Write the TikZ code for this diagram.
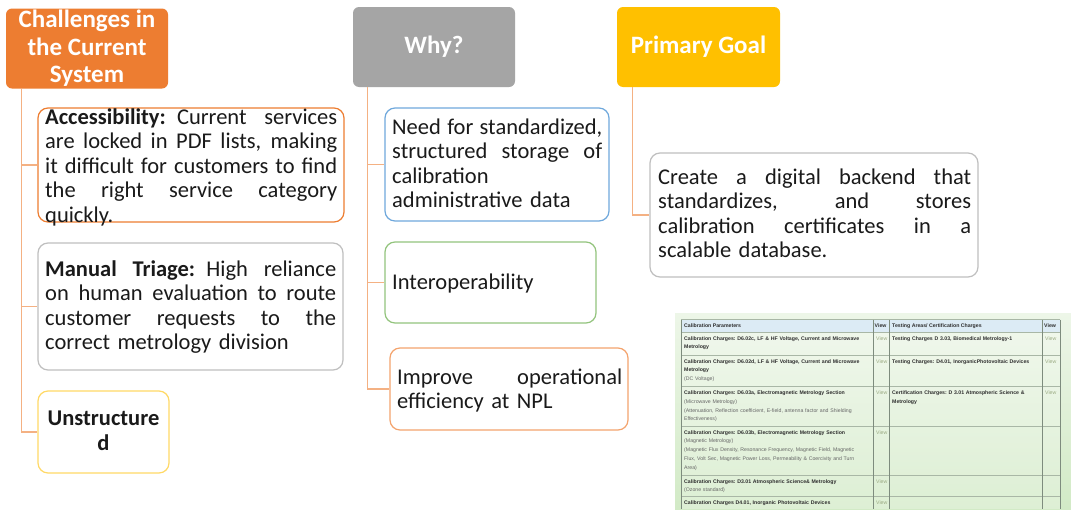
\documentclass[tikz,border=0pt]{standalone}
\usepackage{fontspec}
\setmainfont{Carlito}
\newfontfamily\tabfont{Liberation Sans}
\definecolor{cOrange}{HTML}{ED7D31}
\definecolor{cGray}{HTML}{A5A5A5}
\definecolor{cGold}{HTML}{FFC000}
\definecolor{cConn}{HTML}{F4B183}
\definecolor{bGray}{HTML}{BFBFBF}
\definecolor{bYellow}{HTML}{FFD966}
\definecolor{bBlue}{HTML}{6FA8DC}
\definecolor{bGreen}{HTML}{93C47D}
\definecolor{bOrange}{HTML}{F4A46E}
\definecolor{bgTop}{HTML}{EDF6E8}
\definecolor{bgBot}{HTML}{D2EAC6}
\definecolor{tabHead}{HTML}{DCEBF5}
\definecolor{tabLine}{HTML}{A9B7A6}
\definecolor{tabVLine}{HTML}{7E8C7E}
\definecolor{tabText}{HTML}{2E2E2E}
\definecolor{tabGray}{HTML}{666666}
\definecolor{tabView}{HTML}{9AAA82}
\definecolor{txt}{HTML}{1A1A1A}
\newcommand{\jl}[2]{\makebox[#1][s]{\spaceskip=0.226em plus 1fil minus 0.05em\relax #2}}
\begin{document}
\begin{tikzpicture}[x=1pt,y=-1pt,
  hdr/.style={rectangle, rounded corners=6pt, inner sep=0pt, text=white,
    font=\bfseries\fontsize{25}{27.5}\selectfont, align=center},
  card/.style={rectangle, draw, rounded corners=10pt, line width=1.2pt, fill=white, inner sep=0pt},
  conn/.style={draw=cConn, line width=1.3pt},
  body/.style={font=\fontsize{22.5}{24.5}\selectfont, inner sep=0pt, anchor=base west, align=left, text=txt},
  cell/.style={font=\tabfont\fontsize{5.2}{8.8}\selectfont\frenchspacing, inner sep=0pt, anchor=base west, align=left, text=tabText},
  viewc/.style={cell, text=tabView},
]
\useasboundingbox (0,0) rectangle (1071,509);
\fill[white] (0,0) rectangle (1071,509);

% ---------- headers ----------
\node[hdr, fill=cOrange, minimum width=162pt, minimum height=80pt] (h1) at (87,48.5) {Challenges in\\the Current\\System};
\node[hdr, fill=cGray, minimum width=162pt, minimum height=80pt] (h2) at (434,47) {Why?};
\node[hdr, fill=cGold, minimum width=163pt, minimum height=80pt] (h3) at (698.5,47) {Primary Goal};

% ---------- cards ----------
\node[card, draw=cOrange, minimum width=306pt, minimum height=114pt] (acc) at (191,165) {};
\node[card, draw=bGray, minimum width=305pt, minimum height=127pt] (tri) at (190.5,306.5) {};
\node[card, draw=bYellow, minimum width=131pt, minimum height=82pt] (uns) at (103.5,432) {};
\node[card, draw=bBlue, minimum width=224pt, minimum height=113pt] (need) at (497,164.5) {};
\node[card, draw=bGreen, minimum width=211pt, minimum height=81pt] (inter) at (490.5,282.5) {};
\node[card, draw=bOrange, minimum width=238pt, minimum height=82pt] (impr) at (509,389) {};
\node[card, draw=bGray, minimum width=328pt, minimum height=124pt] (goal) at (814,215) {};

% ---------- connectors ----------
\draw[conn] ([xshift=15.7pt]h1.south west) |- (acc.west);
\draw[conn] ([xshift=15.7pt]h1.south west) |- (tri.west);
\draw[conn] ([xshift=15.7pt]h1.south west) |- (uns.west);
\draw[conn] ([xshift=15pt]h2.south west) |- (need.west);
\draw[conn] ([xshift=15pt]h2.south west) |- (inter.west);
\draw[conn] ([xshift=15pt]h2.south west) |- (impr.west);
\draw[conn] ([xshift=16pt]h3.south west) |- (goal.west);

% ---------- card texts ----------
\node[body, text width=292pt] (acc-t) at (45,124) {\jl{292pt}{\textbf{Accessibility:} Current services}\\
\jl{292pt}{are locked in PDF lists, making}\\
\jl{292pt}{it difficult for customers to find}\\
\jl{292pt}{the right service category}\\
quickly.};
\node[body, text width=291pt] (tri-t) at (45,276) {\jl{291pt}{\textbf{Manual Triage:} High reliance}\\
\jl{291pt}{on human evaluation to route}\\
\jl{291pt}{customer requests to the}\\
correct metrology division};
\node[body, font=\bfseries\fontsize{22.5}{24.5}\selectfont, anchor=base, align=center] (uns-t) at (103.5,450) {Unstructure\\d};
\node[body, text width=210pt] (need-t) at (392,134) {\jl{210pt}{Need for standardized,}\\
\jl{210pt}{structured storage of}\\
calibration\\
administrative data};
\node[body] (inter-t) at (392,289) {Interoperability};
\node[body, text width=225pt] (impr-t) at (397,384) {\jl{225pt}{Improve operational}\\
efficiency at NPL};
\node[body, text width=313pt] (goal-t) at (658,184) {\jl{313pt}{Create a digital backend that}\\
\jl{313pt}{standardizes, and stores}\\
\jl{313pt}{calibration certificates in a}\\
scalable database.};

% ---------- table screenshot ----------
\shade[top color=bgTop, bottom color=bgBot] (675,313) rectangle (1071,509);
\fill[tabHead] (681,319.5) rectangle (1060,332);
\fill[white, opacity=0.25] (681,332) rectangle (1060,509);
\foreach \yy in {319.5,332,355,386.5,426,475,496}
  \draw[tabLine, line width=0.6pt] (681,\yy) -- (1060,\yy);
\foreach \xx in {681,873,889,1042,1060}
  \draw[tabVLine, line width=0.7pt] (\xx,319.5) -- (\xx,509);

\node[cell] (th1) at (684,327.8) {\textbf{Calibration Parameters}};
\node[cell] (th2) at (874.5,327.8) {\textbf{View}};
\node[cell] (th3) at (892,327.8) {\textbf{Testing Areas/ Certification Charges}};
\node[cell] (th4) at (1044,327.8) {\textbf{View}};

\node[cell, text width=200pt] (r1a) at (684,340) {\textbf{Calibration Charges: D6.02c, LF \& HF Voltage, Current and Microwave}\\\textbf{Metrology}};
\node[cell, text width=200pt] (r2a) at (684,363) {\textbf{Calibration Charges: D6.02d, LF \& HF Voltage, Current and Microwave}\\\textbf{Metrology}\\\textcolor{tabGray}{(DC Voltage)}};
\node[cell, text width=200pt] (r3a) at (684,394.5) {\textbf{Calibration Charges: D6.03a, Electromagnetic Metrology Section}\\\textcolor{tabGray}{(Microwave Metrology)}\\\textcolor{tabGray}{(Attenuation, Reflection coefficient, E-field, antenna factor and Shielding}\\\textcolor{tabGray}{Effectiveness)}};
\node[cell, text width=200pt] (r4a) at (684,434) {\textbf{Calibration Charges: D6.03b, Electromagnetic Metrology Section}\\\textcolor{tabGray}{(Magnetic Metrology)}\\\textcolor{tabGray}{(Magnetic Flux Density, Resonance Frequency, Magnetic Field, Magnetic}\\\textcolor{tabGray}{Flux, Volt Sec, Magnetic Power Loss, Permeability \& Coercivity and Turn}\\\textcolor{tabGray}{Area)}};
\node[cell, text width=200pt] (r5a) at (684,483) {\textbf{Calibration Charges: D3.01 Atmospheric Science\& Metrology}\\\textcolor{tabGray}{(Ozone standard)}};
\node[cell, text width=200pt] (r6a) at (684,504) {\textbf{Calibration Charges D4.01, Inorganic Photovoltaic Devices}};

\node[viewc] (r1b) at (876,340) {View};
\node[viewc] (r2b) at (876,363) {View};
\node[viewc] (r3b) at (876,394.5) {View};
\node[viewc] (r4b) at (876,434) {View};
\node[viewc] (r5b) at (876,483) {View};
\node[viewc] (r6b) at (876,504) {View};

\node[cell, text width=150pt] (r1c) at (892,340) {\textbf{Testing Charges D 3.03, Biomedical Metrology-1}};
\node[cell, text width=150pt] (r2c) at (892,363) {\textbf{Testing Charges: D4.01, InorganicPhotovoltaic Devices}};
\node[cell, text width=150pt] (r3c) at (892,394.5) {\textbf{Certification Charges: D 3.01 Atmospheric Science \&}\\\textbf{Metrology}};

\node[viewc] (r1d) at (1045,340) {View};
\node[viewc] (r2d) at (1045,363) {View};
\node[viewc] (r3d) at (1045,394.5) {View};
\end{tikzpicture}
\end{document}
